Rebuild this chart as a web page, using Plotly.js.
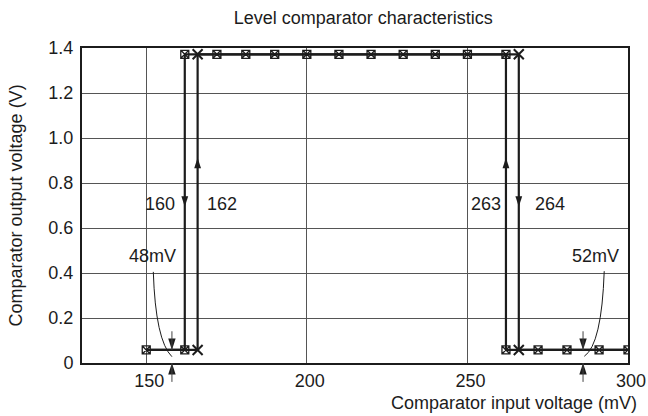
<!DOCTYPE html>
<html><head><meta charset="utf-8">
<script src="https://cdn.plot.ly/plotly-3.0.1.min.js"></script>
<style>html,body{margin:0;padding:0;background:#fff}#chart{width:648px;height:416px}</style>
</head><body><div id="chart"></div>
<script>
// ---- data ----
const risingX = [150, 166, 166, 172, 181, 190, 200, 210, 220, 230, 240, 250, 266, 266, 272, 281, 291, 300];
const risingY = [0.058, 0.058, 1.372, 1.372, 1.372, 1.372, 1.372, 1.372, 1.372, 1.372, 1.372, 1.372, 1.372, 0.058, 0.058, 0.058, 0.058, 0.058];
const fallingX = [300, 291, 281, 272, 262, 262, 250, 240, 230, 220, 210, 200, 190, 181, 172, 162, 162, 150];
const fallingY = [0.058, 0.058, 0.058, 0.058, 0.058, 1.372, 1.372, 1.372, 1.372, 1.372, 1.372, 1.372, 1.372, 1.372, 1.372, 1.372, 0.058, 0.058];

const xTicks = [150, 200, 250, 300];
const yTicks = [0, 0.2, 0.4, 0.6, 0.8, 1.0, 1.2, 1.4];
const yTickText = ['0', '0.2', '0.4', '0.6', '0.8', '1.0', '1.2', '1.4'];

const thresholdLabels = ['160', '162', '263', '264'];
const thresholdLabelX = [159.6, 168.2, 261.2, 270.4];
const thresholdLabelY = [0.705, 0.705, 0.705, 0.705];

const dirArrowX = [162, 166, 262, 266];
const dirArrowY = [0.695, 0.912, 0.912, 0.695];
const dirArrowUp = [false, true, true, false];

const levelNotes = ['48mV', '52mV'];
const levelNoteX = [152.0, 289.8];
const levelNoteY = [0.474, 0.474];
const levelArrowX = [158, 286];
const levelValue = [0.058, 0.058];
const curveStart = [[152.2, 0.405], [292.6, 0.408]];
const curveCtrl = [[152.9, 0.100], [291.8, 0.082]];
const curveEnd = [[158.0, 0.028], [286.4, 0.030]];

// ---- styling ----
const INK = '#1c1c1c';
const FONT = 'Liberation Sans, Arial, Helvetica, sans-serif';
const FS = 18;

// points only on the rising path get a plain cross
const fallingKeys = new Set(fallingX.map((x, i) => x + ':' + fallingY[i]));
const crossX = [], crossY = [];
risingX.forEach((x, i) => { if (!fallingKeys.has(x + ':' + risingY[i])) { crossX.push(x); crossY.push(risingY[i]); } });

const traces = [
  {x: risingX, y: risingY, mode: 'lines', line: {color: INK, width: 2.2}, hoverinfo: 'skip'},
  {x: fallingX, y: fallingY, mode: 'lines', line: {color: INK, width: 2.2}, hoverinfo: 'skip'},
  {x: fallingX, y: fallingY, mode: 'markers', hoverinfo: 'skip',
   marker: {symbol: 'square-x-open', size: 8, color: INK, line: {width: 1.3, color: INK}}},
  {x: crossX, y: crossY, mode: 'markers', hoverinfo: 'skip',
   marker: {symbol: 'x-thin-open', size: 10, color: INK, line: {width: 2, color: INK}}},
  {x: dirArrowX, y: dirArrowY, mode: 'markers', hoverinfo: 'skip',
   marker: {symbol: 'arrow', size: 11, color: INK, angle: dirArrowUp.map(u => u ? 0 : 180), line: {width: 0}}},
  {x: levelArrowX, y: levelValue, mode: 'markers', hoverinfo: 'skip',
   marker: {symbol: 'arrow', size: 12, color: INK, angle: 180, line: {width: 0}}},
  {x: levelArrowX, y: levelArrowX.map(() => 0), mode: 'markers', hoverinfo: 'skip', cliponaxis: false,
   marker: {symbol: 'arrow', size: 12, color: INK, angle: 0, line: {width: 0}}}
];

const shapes = [];
levelArrowX.forEach((x, i) => {
  shapes.push({type: 'line', xref: 'x', yref: 'y', x0: x, x1: x, y0: levelValue[i], y1: levelValue[i] + 0.083,
               line: {color: '#444', width: 1}});
  shapes.push({type: 'line', xref: 'x', yref: 'paper', x0: x, x1: x, y0: 0, y1: -0.06,
               line: {color: '#444', width: 1}});
  shapes.push({type: 'path', xref: 'x', yref: 'y',
               path: `M ${curveStart[i][0]},${curveStart[i][1]} Q ${curveCtrl[i][0]},${curveCtrl[i][1]} ${curveEnd[i][0]},${curveEnd[i][1]}`,
               line: {color: INK, width: 1}});
});

const annotations = [];
thresholdLabels.forEach((t, i) => annotations.push({
  x: thresholdLabelX[i], y: thresholdLabelY[i], xref: 'x', yref: 'y', text: t, showarrow: false,
  xanchor: i % 2 === 0 ? 'right' : 'left', yanchor: 'middle', font: {size: FS, color: INK, family: FONT}
}));
levelNotes.forEach((t, i) => annotations.push({
  x: levelNoteX[i], y: levelNoteY[i], xref: 'x', yref: 'y', text: t, showarrow: false,
  xanchor: 'center', yanchor: 'middle', font: {size: FS, color: INK, family: FONT}
}));
annotations.push({
  x: 1, y: 0, xref: 'paper', yref: 'paper', xanchor: 'right', yanchor: 'middle', xshift: 11, yshift: -40,
  text: 'Comparator input voltage (mV)', showarrow: false, font: {size: FS, color: INK, family: FONT}
});
annotations.push({
  x: 0, y: 0.5, xref: 'paper', yref: 'paper', xanchor: 'center', yanchor: 'middle', xshift: -67,
  textangle: -90, text: 'Comparator output voltage (V)', showarrow: false, font: {size: FS, color: INK, family: FONT}
});

const layout = {
  width: 648, height: 416,
  margin: {l: 82, r: 20, t: 48, b: 53},
  paper_bgcolor: '#fff', plot_bgcolor: '#fff',
  showlegend: false,
  font: {family: FONT, color: INK, size: FS},
  title: {text: 'Level comparator characteristics', xref: 'paper', x: 0.515, xanchor: 'center', y: 0.957, yanchor: 'middle',
          font: {size: FS, color: INK, family: FONT}},
  xaxis: {range: [130, 300], tickvals: xTicks, ticktext: xTicks.map(String), showgrid: true, gridcolor: '#555', gridwidth: 1,
          showline: true, linecolor: INK, linewidth: 2, mirror: true, zeroline: false, ticks: '',
          ticklabelshift: 3, tickfont: {size: FS, color: INK, family: FONT}, fixedrange: true},
  yaxis: {range: [0, 1.4], tickvals: yTicks, ticktext: yTickText, showgrid: true, gridcolor: '#555', gridwidth: 1,
          showline: true, linecolor: INK, linewidth: 2, mirror: true, zeroline: false, ticks: '',
          ticklabelstandoff: 3, tickfont: {size: FS, color: INK, family: FONT}, fixedrange: true},
  shapes: shapes,
  annotations: annotations
};

Plotly.newPlot('chart', traces, layout, {staticPlot: true, displayModeBar: false});
</script>
</body></html>
